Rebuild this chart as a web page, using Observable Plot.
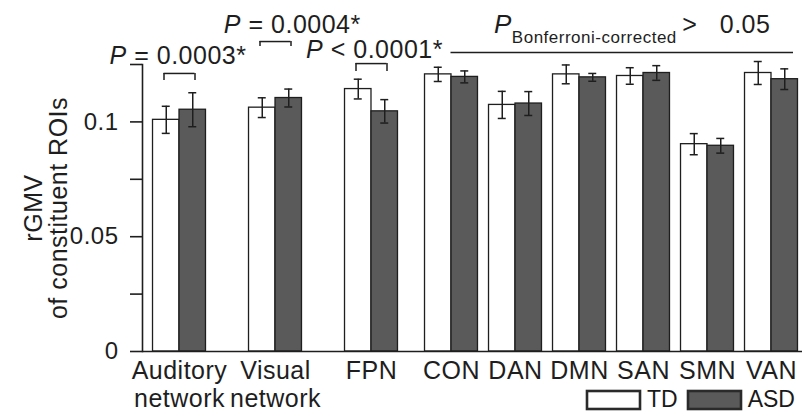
<!DOCTYPE html>
<html><head><meta charset="utf-8">
<script src="https://cdn.jsdelivr.net/npm/d3@7"></script>
<script src="https://cdn.jsdelivr.net/npm/@observablehq/plot@0.6"></script>
<style>
body{margin:0;background:#fff;}
#wrap{position:relative;width:802px;height:414px;overflow:hidden;}
#wrap svg text{letter-spacing:0.5px;}
#legend{position:absolute;left:587px;top:386px;width:215px;}
#legend > div{font:23px "Liberation Sans",Arial,sans-serif;color:#1a1a1a;margin:0;min-height:0;display:flex;flex-wrap:nowrap;white-space:nowrap;}
#legend span{margin-right:10px;}
#legend span svg{margin-right:7px;}
#legend rect{stroke:#2a2a2a;stroke-width:2.6px;}
</style></head><body><div id="wrap"><div id="legend"></div></div>
<script>
// ---- data ----
const networks = ["Auditory","Visual","FPN","CON","DAN","DMN","SAN","SMN","VAN"];
const networkLabels = ["Auditory\nnetwork","Visual\nnetwork","FPN","CON","DAN","DMN","SAN","SMN","VAN"];
const groups = ["TD","ASD"];
const tdMean  = [0.1009,0.1062,0.1143,0.1207,0.1074,0.1207,0.1200,0.0903,0.1213];
const tdErr   = [0.0059,0.0043,0.0043,0.0031,0.0059,0.0041,0.0036,0.0046,0.0050];
const asdMean = [0.1053,0.1104,0.1046,0.1196,0.1080,0.1194,0.1213,0.0896,0.1186];
const asdErr  = [0.0074,0.0039,0.0051,0.0026,0.0052,0.0017,0.0032,0.0032,0.0045];
const yTicks = [0,0.025,0.05,0.075,0.1,0.125];
const yTickLabels = ["0","","0.05","","0.1",""];
const yTitle = "rGMV\nof constituent ROIs";
const pNetworks = ["Auditory","Visual","FPN"];
const pLabels = ["P = 0.0003*","P = 0.0004*","P < 0.0001*"];
const pLabelY = [0.1289,0.1420,0.1315];
const bracketY = [0.1211,0.1350,0.1254];
const bracketLegY = [0.1180,0.1328,0.1220];
const bonfLabel = ["P","Bonferroni-corrected","\u2009>\u00a0\u00a0\u00a00.05"];
const bonfFrom = "CON", bonfTo = "VAN";
const bonfY = 0.1420, bonfLineY = 0.1302;

// ---- layout ----
const gapSlots = [6,6,5,4,4,4,4,4];
const xRange = [170, 779];
const barW = 26.5, capW = 8, bracketW = 31;
const pLabelDx = [-1.5, 16.8, 3];
const ink = "#1e1e1e";
const groupColors = ["#ffffff","#5a5a5a"];

const slots = [];
networks.forEach((n, i) => {
  slots.push(n);
  if (i < gapSlots.length) for (let k = 1; k < gapSlots[i]; k++) slots.push(`_${i}_${k}`);
});
const u = (xRange[1] - xRange[0]) / slots.length;

const rows = networks.flatMap((n, i) => [
  {network: n, group: "TD", mean: tdMean[i], err: tdErr[i]},
  {network: n, group: "ASD", mean: asdMean[i], err: asdErr[i]}
]);
const td = rows.filter(d => d.group === "TD");
const asd = rows.filter(d => d.group === "ASD");

const errMarks = [[td, -barW / 2], [asd, barW / 2]].flatMap(([data, off]) => [
  Plot.ruleX(data, {x: "network", y1: d => d.mean - d.err, y2: d => d.mean + d.err, dx: off, stroke: ink, strokeWidth: 1.5}),
  Plot.tickY(data, {x: "network", y: d => d.mean + d.err, dx: off, insetLeft: u / 2 - capW / 2, insetRight: u / 2 - capW / 2, stroke: ink, strokeWidth: 1.5}),
  Plot.tickY(data, {x: "network", y: d => d.mean - d.err, dx: off, insetLeft: u / 2 - capW / 2, insetRight: u / 2 - capW / 2, stroke: ink, strokeWidth: 1.5})
]);

const pMarks = pNetworks.flatMap((n, i) => [
  Plot.text([n], {x: d => d, y: () => pLabelY[i], text: () => pLabels[i], dx: pLabelDx[i], fontSize: 25, fill: ink}),
  Plot.tickY([n], {x: d => d, y: () => bracketY[i], insetLeft: u / 2 - bracketW / 2, insetRight: u / 2 - bracketW / 2, stroke: ink, strokeWidth: 1.5}),
  Plot.ruleX([n], {x: d => d, y1: () => bracketY[i], y2: () => bracketLegY[i], dx: -bracketW / 2, stroke: ink, strokeWidth: 1.5}),
  Plot.ruleX([n], {x: d => d, y1: () => bracketY[i], y2: () => bracketLegY[i], dx: bracketW / 2, stroke: ink, strokeWidth: 1.5})
]);

const chart = Plot.plot({
  width: 802, height: 414,
  marginTop: 64, marginBottom: 63, marginLeft: 142, marginRight: 0,
  style: {fontFamily: "Liberation Sans, Arial, sans-serif", fontSize: "25px", color: ink, background: "transparent", overflow: "visible"},
  x: {type: "band", domain: slots, range: xRange, padding: 0, axis: null},
  y: {domain: [0, 0.125], label: null},
  color: {domain: groups, range: groupColors},
  marks: [
    Plot.barY(td, {x: "network", y: "mean", fill: "group", stroke: ink, strokeWidth: 1.3, insetLeft: u / 2 - barW, insetRight: u / 2}),
    Plot.barY(asd, {x: "network", y: "mean", fill: "group", stroke: ink, strokeWidth: 1.3, insetLeft: u / 2, insetRight: u / 2 - barW}),
    ...errMarks,
    Plot.ruleY([0], {stroke: ink, strokeWidth: 1.6}),
    Plot.frame({anchor: "left", stroke: ink, strokeWidth: 1.6}),
    Plot.axisY({ticks: yTicks, tickFormat: d => yTickLabels[yTicks.indexOf(d)], tickSize: 12, tickPadding: 12, fontSize: 24, strokeWidth: 1.6, label: null}),
    Plot.text(networks, {x: d => d, text: (d, i) => networkLabels[i], frameAnchor: "bottom", lineAnchor: "top", dy: 8, fontSize: 25, lineHeight: 1.12, fill: ink}),
    Plot.text([yTitle], {text: d => d, frameAnchor: "left", textAnchor: "middle", rotate: -90, dx: -96, fontSize: 25, lineHeight: 1.0, fill: ink}),
    ...pMarks,
    Plot.text([bonfFrom], {x: d => d, y: () => bonfY, text: () => bonfLabel.join("|"), textAnchor: "start", dx: 42.5, fontSize: 25, fill: ink}),
    Plot.ruleY([bonfLineY], {x1: () => bonfFrom, x2: () => bonfTo, y: d => d, insetLeft: 7.5, insetRight: -14, stroke: ink, strokeWidth: 1.5})
  ]
});

// italic P and subscript as tspans
d3.select(chart).selectAll("text").each(function () {
  const t = this.textContent;
  const sel = d3.select(this);
  if (t === bonfLabel.join("|")) {
    this.textContent = "";
    sel.append("tspan").attr("font-style", "italic").attr("font-size", 26).text(bonfLabel[0]);
    sel.append("tspan").attr("font-size", 17).attr("dy", 10).text(bonfLabel[1]);
    sel.append("tspan").attr("dy", -10).text(bonfLabel[2]);
  } else if (pLabels.includes(t)) {
    this.textContent = "";
    sel.append("tspan").attr("font-style", "italic").text("P");
    sel.append("tspan").text(t.slice(1).replace(/ /g, "\u00a0"));
  }
});

document.getElementById("wrap").prepend(chart);
const legend = Plot.legend({color: {domain: groups, range: groupColors}, swatchWidth: 53, swatchHeight: 18});
document.getElementById("legend").append(legend);
</script>
</body></html>
